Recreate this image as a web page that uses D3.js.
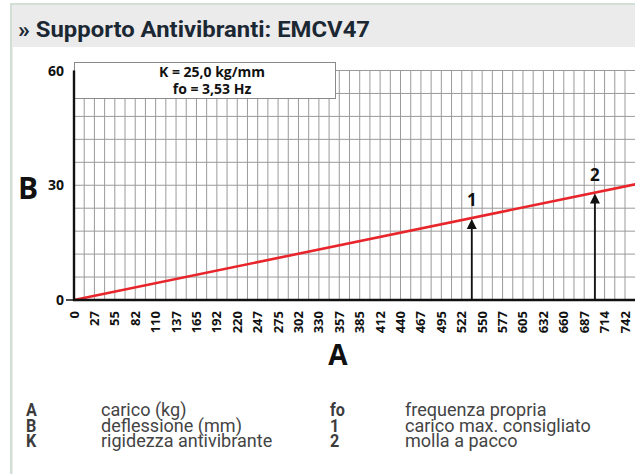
<!DOCTYPE html>
<html>
<head>
<meta charset="utf-8">
<script src="https://cdn.jsdelivr.net/npm/d3@7"></script>
<style>
  html, body { margin: 0; padding: 0; background: #fff; }
  svg { display: block; }
</style>
</head>
<body>
<div id="chart"></div>
<script>
// Supporto antivibrante EMCV47 — carico (kg) vs deflessione (mm), retta K = 25 kg/mm.

const title = '» Supporto Antivibranti: EMCV47';
const xTickLabels = ['0', '27', '55', '82', '110', '137', '165', '192', '220', '247', '275', '302', '330', '357',
  '385', '412', '440', '467', '495', '522', '550', '577', '605', '632', '660', '687', '714', '742'];
const xTickStep = 27.5;          // kg per etichetta
const xGridStep = 13.75;         // kg per linea verticale
const yTicks = [0, 30, 60];
const yGridStep = 6;             // mm per linea orizzontale
const loadKg = [0, 756.25];      // retta carico/deflessione
const deflMm = [0, 30.25];
const markers = [
  { label: '1', load: 536 },
  { label: '2', load: 702 },
];
const stiffness = 25.0;
const boxLines = ['K = 25,0 kg/mm', 'fo = 3,53 Hz'];
const legendLeft = [['A', 'carico (kg)'], ['B', 'deflessione (mm)'], ['K', 'rigidezza antivibrante']];
const legendRight = [['fo', 'frequenza propria'], ['1', 'carico max. consigliato'], ['2', 'molla a pacco']];

const W = 635, H = 474;
const COL = {
  frame: '#d3ded5',
  header: '#ebebeb',
  titleInk: '#1b2733',
  grid: '#9a9a9a',
  axis: '#111',
  line: '#e8252b',
  legendKey: '#3c3c3c',
  legendText: '#444',
};
const chartFont = '"Open Sans", "DejaVu Sans", sans-serif';

const svg = d3.select('#chart').append('svg')
  .attr('width', W).attr('height', H)
  .attr('viewBox', `0 0 ${W} ${H}`);

// card frame
svg.append('rect').attr('x', 11).attr('y', 3).attr('width', W - 11).attr('height', 2).attr('fill', COL.frame);
svg.append('rect').attr('x', 10).attr('y', 3).attr('width', 2.5).attr('height', H - 3).attr('fill', COL.frame);
svg.append('rect').attr('x', 12.5).attr('y', 5).attr('width', W - 12.5).attr('height', 42).attr('fill', COL.header);

svg.append('text')
  .attr('x', 18).attr('y', 37)
  .attr('font-family', 'Roboto, sans-serif')
  .attr('font-weight', 700)
  .attr('font-size', 22)
  .attr('textLength', 352)
  .attr('lengthAdjust', 'spacingAndGlyphs')
  .attr('fill', COL.titleInk)
  .text(title);

// scales
const x = d3.scaleLinear().domain([0, xTickStep * (xTickLabels.length - 1)]).range([74, 625]);
const y = d3.scaleLinear().domain([0, 60]).range([300, 70.5]);
const xMax = x.invert(W);

const plot = svg.append('g');
plot.append('clipPath').attr('id', 'clip')
  .append('rect').attr('x', 60).attr('y', 50).attr('width', W - 60).attr('height', 300);

// grid
const grid = plot.append('g').attr('clip-path', 'url(#clip)');
const vLines = d3.range(0, xMax + 0.01, xGridStep);
grid.selectAll('line.v').data(vLines).join('line')
  .attr('class', 'v')
  .attr('x1', d => x(d)).attr('x2', d => x(d))
  .attr('y1', y(60)).attr('y2', y(0))
  .attr('stroke', COL.grid).attr('stroke-width', 1);
const hLines = d3.range(0, 60.01, yGridStep);
grid.selectAll('line.h').data(hLines).join('line')
  .attr('class', 'h')
  .attr('x1', x(0)).attr('x2', W)
  .attr('y1', d => y(d)).attr('y2', d => y(d))
  .attr('stroke', COL.grid).attr('stroke-width', 1);

// info box over the top-left of the grid
svg.append('rect')
  .attr('x', 74.5).attr('y', 62.5).attr('width', 261).attr('height', 36)
  .attr('fill', '#fff').attr('stroke', '#8a8a8a').attr('stroke-width', 1);
boxLines.forEach((t, i) => {
  svg.append('text')
    .attr('x', 212).attr('y', 76.5 + i * 17.5)
    .attr('text-anchor', 'middle')
    .attr('font-family', chartFont)
    .attr('font-weight', 700)
    .attr('font-size', 14)
    .attr('fill', '#111')
    .text(t);
});

// stiffness line
const pts = loadKg.map((l, i) => [l, deflMm[i]]);
grid.append('path')
  .datum(pts)
  .attr('d', d3.line().x(d => x(d[0])).y(d => y(d[1])))
  .attr('fill', 'none')
  .attr('stroke', COL.line)
  .attr('stroke-width', 2.6);

// axes
svg.append('line')
  .attr('x1', x(0)).attr('x2', x(0)).attr('y1', y(60)).attr('y2', y(0) + 1)
  .attr('stroke', COL.axis).attr('stroke-width', 2.4);
svg.append('line')
  .attr('x1', x(0) - 1).attr('x2', W).attr('y1', y(0)).attr('y2', y(0))
  .attr('stroke', COL.axis).attr('stroke-width', 2.4);
svg.append('line')
  .attr('x1', x(0) - 8).attr('x2', x(0)).attr('y1', y(0)).attr('y2', y(0))
  .attr('stroke', COL.axis).attr('stroke-width', 1.5);

svg.selectAll('text.yt').data(yTicks).join('text')
  .attr('class', 'yt')
  .attr('x', 64).attr('y', d => y(d) + 5)
  .attr('text-anchor', 'end')
  .attr('font-family', chartFont)
  .attr('font-weight', 700)
  .attr('font-size', 14)
  .attr('fill', '#111')
  .text(d => d);

svg.selectAll('text.xt').data(xTickLabels).join('text')
  .attr('class', 'xt')
  .attr('transform', (d, i) => `translate(${x(i * xTickStep) + 4.5},311) rotate(-90)`)
  .attr('text-anchor', 'end')
  .attr('font-family', chartFont)
  .attr('font-weight', 700)
  .attr('font-size', 13)
  .attr('fill', '#111')
  .text(d => d);

svg.append('text')
  .attr('x', 28).attr('y', 199)
  .attr('text-anchor', 'middle')
  .attr('font-family', chartFont)
  .attr('font-weight', 700)
  .attr('font-size', 30)
  .attr('fill', '#111')
  .text('B');
svg.append('text')
  .attr('x', 338).attr('y', 365)
  .attr('text-anchor', 'middle')
  .attr('font-family', chartFont)
  .attr('font-weight', 700)
  .attr('font-size', 28)
  .attr('fill', '#111')
  .text('A');

// markers: arrow from the axis up to the line
markers.forEach(m => {
  const mx = x(m.load);
  const my = y(m.load / stiffness);
  svg.append('line')
    .attr('x1', mx).attr('x2', mx).attr('y1', y(0)).attr('y2', my + 8)
    .attr('stroke', '#111').attr('stroke-width', 1.8);
  svg.append('path')
    .attr('d', `M${mx},${my + 1} L${mx - 5},${my + 11} L${mx + 5},${my + 11} Z`)
    .attr('fill', '#111');
  svg.append('text')
    .attr('x', mx).attr('y', my - 12)
    .attr('text-anchor', 'middle')
    .attr('font-family', chartFont)
    .attr('font-weight', 700)
    .attr('font-size', 17)
    .attr('fill', '#111')
    .text(m.label);
});

// legend
function legendColumn(rows, keyX, textX) {
  rows.forEach((r, i) => {
    const yy = 416 + i * 15.5;
    svg.append('text')
      .attr('transform', `translate(${keyX},${yy}) scale(0.9,1)`)
      .attr('font-family', 'Roboto, sans-serif')
      .attr('font-weight', 700)
      .attr('font-size', 18)
      .attr('fill', COL.legendKey)
      .text(r[0]);
    svg.append('text')
      .attr('transform', `translate(${textX},${yy}) scale(0.95,1)`)
      .attr('font-family', 'Roboto, sans-serif')
      .attr('font-size', 19)
      .attr('fill', COL.legendText)
      .text(r[1]);
  });
}
legendColumn(legendLeft, 26, 101);
legendColumn(legendRight, 330, 405);
</script>
</body>
</html>
